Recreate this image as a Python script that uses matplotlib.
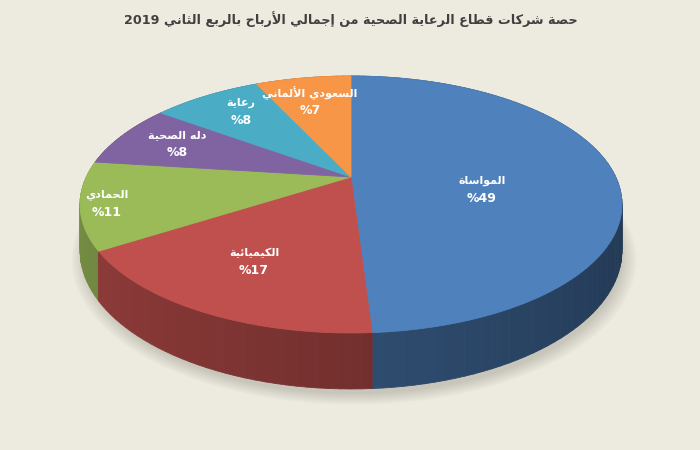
import re
import numpy as np
import matplotlib
matplotlib.use('Agg')
import matplotlib.pyplot as plt
from matplotlib.patches import Polygon
from matplotlib.collections import PolyCollection
from matplotlib.colors import to_rgb

# data
title = 'حصة شركات قطاع الرعاية الصحية من إجمالي الأرباح بالربع الثاني 2019'
companies = ['المواساة', 'الكيميائية', 'الحمادي', 'دله الصحية', 'رعاية', 'السعودي الألماني']
shares = [49, 17, 11, 8, 8, 7]
colors = ['#4F81BD', '#C0504D', '#9BBB59', '#8064A2', '#4BACC6', '#F79646']

# label anchor points in pixels (x, y of the name line)
label_pos = [(482, 181), (254, 253), (107, 195), (177, 135), (241, 103), (310, 93)]

# pie geometry in pixels (perspective view)
CX, CY = 351, 177      # centre of the pie as seen on screen
SX, SY = 264.7, 122.6  # horizontal / vertical radius factors
K = 0.214              # perspective strength
DEPTH = 44             # thickness of the pie
BG = '#EDEBE0'

# ---- minimal Arabic shaping (matplotlib has no complex text layout) ----
_FORMS = {
    'ء': (0xFE80, 1), 'آ': (0xFE81, 2), 'أ': (0xFE83, 2), 'ؤ': (0xFE85, 2),
    'إ': (0xFE87, 2), 'ئ': (0xFE89, 4), 'ا': (0xFE8D, 2), 'ب': (0xFE8F, 4),
    'ة': (0xFE93, 2), 'ت': (0xFE95, 4), 'ث': (0xFE99, 4), 'ج': (0xFE9D, 4),
    'ح': (0xFEA1, 4), 'خ': (0xFEA5, 4), 'د': (0xFEA9, 2), 'ذ': (0xFEAB, 2),
    'ر': (0xFEAD, 2), 'ز': (0xFEAF, 2), 'س': (0xFEB1, 4), 'ش': (0xFEB5, 4),
    'ص': (0xFEB9, 4), 'ض': (0xFEBD, 4), 'ط': (0xFEC1, 4), 'ظ': (0xFEC5, 4),
    'ع': (0xFEC9, 4), 'غ': (0xFECD, 4), 'ف': (0xFED1, 4), 'ق': (0xFED5, 4),
    'ك': (0xFED9, 4), 'ل': (0xFEDD, 4), 'م': (0xFEE1, 4), 'ن': (0xFEE5, 4),
    'ه': (0xFEE9, 4), 'و': (0xFEED, 2), 'ى': (0xFEEF, 2), 'ي': (0xFEF1, 4),
}
_LAM_ALEF = {'آ': 0xFEF5, 'أ': 0xFEF7, 'إ': 0xFEF9, 'ا': 0xFEFB}


def _shape(s):
    chars = []
    i = 0
    while i < len(s):
        c = s[i]
        if c == 'ل' and i + 1 < len(s) and s[i + 1] in _LAM_ALEF:
            chars.append((c, _LAM_ALEF[s[i + 1]], 2))
            i += 2
            continue
        base, n = _FORMS.get(c, (None, 0))
        chars.append((c, base, n))
        i += 1
    out = []
    for j, (c, base, n) in enumerate(chars):
        if base is None:
            out.append(c)
            continue
        jp = j > 0 and chars[j - 1][2] == 4 and n >= 2
        jn = n == 4 and j + 1 < len(chars) and chars[j + 1][2] >= 2
        if n == 4:
            idx = 3 if jp and jn else 1 if jp else 2 if jn else 0
        else:
            idx = 1 if jp else 0
        out.append(chr(base + idx))
    return ''.join(out)


def ar(text):
    runs = re.findall(r'[0-9]+|[^0-9]+', text)
    return ''.join(r if r.isdigit() else _shape(r)[::-1] for r in reversed(runs))


# ---- projection ----
def project(phi, r=1.0, down=0.0):
    u = r * np.sin(phi)
    v = r * np.cos(phi)
    w = 1 + K * v
    return CX + SX * u / w, CY - SY * v / w + down / w


def darker(c, f):
    return tuple(np.array(to_rgb(c)) * f)


fig = plt.figure(figsize=(7, 4.5), dpi=100)
fig.patch.set_facecolor(BG)
ax = fig.add_axes([0, 0, 1, 1])
ax.set_xlim(0, 700)
ax.set_ylim(450, 0)
ax.axis('off')
ax.set_facecolor(BG)

fracs = np.array(shares, dtype=float) / sum(shares)
bounds = np.concatenate([[0], np.cumsum(fracs)]) * 2 * np.pi

# soft shadow under the pie
full = np.linspace(0, 2 * np.pi, 240)
for s in np.linspace(1.04, 0.99, 12):
    xs, ys = project(full, s, DEPTH)
    ax.add_patch(Polygon(np.column_stack([xs + 3, ys + 7]), closed=True,
                         facecolor='#8a887c', edgecolor='none', alpha=0.03))

# side walls, painted back to front
quads, fcols, depth = [], [], []
for k in range(len(shares)):
    phis = np.linspace(bounds[k], bounds[k + 1], max(int(fracs[k] * 200), 4))
    for a0, a1 in zip(phis[:-1], phis[1:]):
        x0, y0 = project(a0)
        x1, y1 = project(a1)
        x2, y2 = project(a1, 1, DEPTH)
        x3, y3 = project(a0, 1, DEPTH)
        quads.append([(x0, y0), (x1, y1), (x2, y2), (x3, y3)])
        um = np.sin((a0 + a1) / 2)
        fcols.append(darker(colors[k], 0.6 - 0.15 * um))
        depth.append(np.cos((a0 + a1) / 2))
order = np.argsort(depth)[::-1]
ax.add_collection(PolyCollection([quads[i] for i in order],
                                 facecolors=[fcols[i] for i in order],
                                 edgecolors=[fcols[i] for i in order],
                                 linewidths=0.6))

# top faces
for k in range(len(shares)):
    phis = np.linspace(bounds[k], bounds[k + 1], max(int(fracs[k] * 300), 6))
    xs, ys = project(phis)
    pts = np.vstack([[CX, CY], np.column_stack([xs, ys])])
    ax.add_patch(Polygon(pts, closed=True, facecolor=colors[k],
                         edgecolor=colors[k], linewidth=0.6))

# labels
for name, val, (lx, ly) in zip(companies, shares, label_pos):
    ax.text(lx, ly, ar(name), ha='center', va='center', color='white',
            fontsize=8, fontweight='bold', family=['DejaVu Sans'])
    ax.text(lx, ly + 17, '%' + str(val), ha='center', va='center', color='white',
            fontsize=9, fontweight='bold', family=['DejaVu Sans'])

ax.text(351, 19, ar(title), ha='center', va='center', color='#404040',
        fontsize=9.2, fontweight='bold', family=['DejaVu Sans'])

fig.savefig('out.png', dpi=100, facecolor=BG)
